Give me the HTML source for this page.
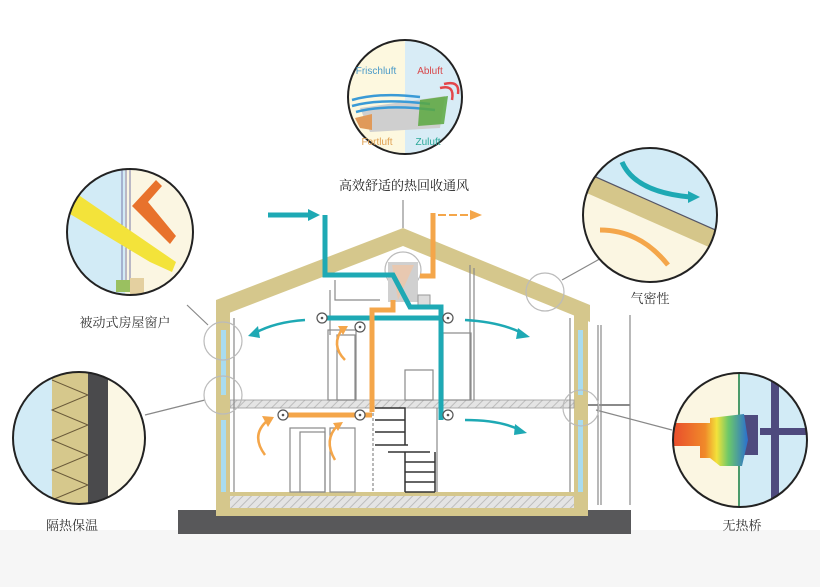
<!DOCTYPE html>
<html><head><meta charset="utf-8"><style>
html,body{margin:0;padding:0;background:#fff}
svg{display:block}
text{font-family:"Liberation Serif","Noto Serif CJK SC",serif}
.lat{font-family:"Liberation Sans",sans-serif}
</style></head><body>
<svg width="820" height="587" viewBox="0 0 820 587" xmlns="http://www.w3.org/2000/svg">
<defs>
<pattern id="h" width="6" height="6" patternUnits="userSpaceOnUse" patternTransform="rotate(45)">
<rect width="6" height="6" fill="#e4e4e4"/><line x1="0" y1="0" x2="0" y2="6" stroke="#bdbdbd" stroke-width="2"/></pattern>
<clipPath id="c1"><circle cx="405" cy="97" r="57"/></clipPath>
<clipPath id="c2"><circle cx="130" cy="232" r="63"/></clipPath>
<clipPath id="c3"><circle cx="79" cy="438" r="66"/></clipPath>
<clipPath id="c4"><circle cx="650" cy="215" r="67"/></clipPath>
<clipPath id="c5"><circle cx="740" cy="440" r="67"/></clipPath>
<linearGradient id="heat" x1="0" x2="1"><stop offset="0" stop-color="#e8472c"/><stop offset=".45" stop-color="#f08a2a"/><stop offset=".6" stop-color="#f3e23a"/><stop offset=".75" stop-color="#6cc86a"/><stop offset="1" stop-color="#2a6fd0"/></linearGradient>
</defs>
<rect x="0" y="530" width="820" height="57" fill="#f6f6f6"/>

<!-- connectors -->
<g stroke="#888" stroke-width="1.2" fill="none">
<line x1="187" y1="305" x2="208" y2="325"/>
<line x1="145" y1="415" x2="205" y2="400"/>
<line x1="605" y1="256" x2="562" y2="280"/>
<line x1="596" y1="410" x2="672" y2="430"/>
</g>

<!-- foundation -->
<rect x="178" y="510" width="453" height="24" fill="#58585a"/>
<!-- roof -->
<polygon points="216,300 403,228 590,305 590,322 403,246 216,318" fill="#d5c78c"/>
<line x1="403" y1="228" x2="403" y2="200" stroke="#777" stroke-width="1"/>
<!-- walls -->
<rect x="216" y="310" width="14" height="205" fill="#d5c78c"/>
<rect x="574" y="312" width="14" height="203" fill="#d5c78c"/>
<rect x="221" y="330" width="5" height="65" fill="#a9dcef"/>
<rect x="221" y="420" width="5" height="72" fill="#a9dcef"/>
<rect x="578" y="330" width="5" height="65" fill="#a9dcef"/>
<rect x="578" y="420" width="5" height="72" fill="#a9dcef"/>
<!-- ground slab -->
<rect x="216" y="492" width="372" height="24" fill="#d5c78c"/>
<rect x="230" y="496" width="344" height="12" fill="url(#h)"/>
<!-- middle floor -->
<rect x="230" y="400" width="344" height="8" fill="url(#h)" stroke="#999" stroke-width=".8"/>
<rect x="216" y="398" width="14" height="12" fill="#d5c78c"/>
<!-- thin lines -->
<g stroke="#8a8a8a" stroke-width="1.2" fill="none">
<line x1="234" y1="318" x2="234" y2="492"/>
<line x1="570" y1="318" x2="570" y2="492"/>
<path d="M330 290 V335 M335 280 V300 H380"/>
<path d="M470 265 V400 M474 268 V400"/>
<rect x="328" y="330" width="28" height="70"/>
<rect x="337" y="335" width="18" height="65"/>
<rect x="443" y="333" width="28" height="67"/>
<rect x="405" y="370" width="28" height="30"/>
<rect x="290" y="428" width="35" height="64"/>
<rect x="300" y="432" width="25" height="60"/>
<rect x="330" y="428" width="25" height="64"/>
<line x1="437" y1="408" x2="437" y2="492"/>
<line x1="373" y1="408" x2="373" y2="492" stroke-dasharray="3 2"/>
<line x1="598" y1="325" x2="598" y2="505"/>
<line x1="601" y1="325" x2="601" y2="505"/>
<line x1="630" y1="315" x2="630" y2="505"/>
<line x1="588" y1="405" x2="630" y2="405" stroke-width="2"/>
</g>
<!-- stairs -->
<g stroke="#333" stroke-width="1.5" fill="#fff">
<path d="M375 408 H405 V420 H375 M375 420 H405 V432 H375 M375 432 H405 V445 H375 M378 445 H408 M388 452 H430 M405 452 V492 M405 462 H435 M405 472 H435 M405 482 H435 M405 492 H435 M435 452 V492"/>
</g>
<!-- HRV unit -->
<circle cx="403" cy="270" r="18" fill="none" stroke="#bbb" stroke-width="1.2"/>
<rect x="388" y="262" width="30" height="40" fill="#d0d0d0"/>
<polygon points="392,265 414,265 398,300" fill="#e8c8b0"/>
<rect x="418" y="295" width="12" height="12" fill="#ddd" stroke="#999"/>
<!-- teal ducts -->
<g stroke="#1ea9b4" stroke-width="5" fill="none">
<path d="M325 215 V275 H393 L410 307 H441 V420"/>
<line x1="322" y1="318" x2="448" y2="318"/>
<path d="M268 215 H308"/>
</g>
<polygon points="308,209 320,215 308,221" fill="#1ea9b4"/>
<!-- orange ducts -->
<g stroke="#f4a64a" stroke-width="5" fill="none">
<path d="M433 213 V276 H420"/>
<path d="M372 412 V310 H393 V300"/>
<line x1="283" y1="415" x2="372" y2="415"/>
<path d="M438 215 H470" stroke-width="2" stroke-dasharray="8 3"/>
</g>
<polygon points="470,210 482,215 470,220" fill="#f4a64a"/>
<!-- diffusers -->
<g fill="#fff" stroke="#555" stroke-width="1.2">
<circle cx="322" cy="318" r="5"/><circle cx="360" cy="327" r="5"/><circle cx="448" cy="318" r="5"/>
<circle cx="283" cy="415" r="5"/><circle cx="360" cy="415" r="5"/><circle cx="448" cy="415" r="5"/>
</g>
<g fill="#555"><circle cx="322" cy="318" r="1.3"/><circle cx="360" cy="327" r="1.3"/><circle cx="448" cy="318" r="1.3"/><circle cx="283" cy="415" r="1.3"/><circle cx="360" cy="415" r="1.3"/><circle cx="448" cy="415" r="1.3"/></g>
<!-- air arrows -->
<g fill="none" stroke-width="2.5">
<path d="M305 320 Q275 322 255 333" stroke="#1ea9b4"/>
<path d="M465 320 Q500 322 522 333" stroke="#1ea9b4"/>
<path d="M465 420 Q500 420 520 430" stroke="#1ea9b4"/>
<path d="M265 455 Q250 435 268 420" stroke="#f4a64a"/>
<path d="M345 360 Q330 345 343 328" stroke="#f4a64a"/>
<path d="M335 460 Q323 440 338 425" stroke="#f4a64a"/>
</g>
<g fill="#1ea9b4"><polygon points="248,336 258,326 260,338"/><polygon points="530,337 518,328 516,339"/><polygon points="527,433 515,424 514,435"/></g>
<g fill="#f4a64a"><polygon points="274,417 262,416 268,427"/><polygon points="348,326 338,326 343,335"/><polygon points="343,422 333,423 338,431"/></g>
<!-- small magnifier circles -->
<g fill="none" stroke="#bbb" stroke-width="1.2">
<circle cx="223" cy="341" r="19"/><circle cx="223" cy="395" r="19"/><circle cx="545" cy="292" r="19"/><circle cx="581" cy="408" r="18"/>
</g>

<!-- detail 1 top -->
<g clip-path="url(#c1)">
<rect x="348" y="40" width="57" height="115" fill="#fdf8df"/><rect x="405" y="40" width="57" height="115" fill="#d8ecf6"/>
<polygon points="360,108 445,96 440,128 370,132" fill="#cfcfcf"/>
<path d="M352 100 Q380 92 420 97 M352 106 Q380 98 430 104 M356 112 Q385 104 435 110" stroke="#3a9ad6" stroke-width="2.5" fill="none"/>
<polygon points="420,100 448,96 444,124 418,126" fill="#5aa840" opacity=".85"/>
<path d="M440 88 Q455 84 452 100 M444 84 Q460 80 458 94" stroke="#e3464a" stroke-width="2.5" fill="none"/>
<polygon points="355,118 372,114 372,130 360,128" fill="#e09a5a"/>
</g>
<circle cx="405" cy="97" r="57" fill="none" stroke="#222" stroke-width="2"/>
<text class="lat" x="376" y="74" font-size="10" fill="#4a9ac8" text-anchor="middle">Frischluft</text>
<text class="lat" x="430" y="74" font-size="10" fill="#d8474a" text-anchor="middle">Abluft</text>
<text class="lat" x="377" y="145" font-size="10" fill="#e0a050" text-anchor="middle">Fortluft</text>
<text class="lat" x="428" y="145" font-size="10" fill="#2aa898" text-anchor="middle">Zuluft</text>
<text x="404" y="190" font-size="13" fill="#222" text-anchor="middle">高效舒适的热回收通风</text>

<!-- detail 2 window -->
<g clip-path="url(#c2)">
<rect x="67" y="169" width="126" height="126" fill="#fbf6e2"/>
<rect x="67" y="169" width="58" height="126" fill="#d2ebf6"/>
<g stroke="#7a7aa8" stroke-width="1"><line x1="122" y1="165" x2="122" y2="290"/><line x1="126" y1="165" x2="126" y2="290"/><line x1="130" y1="165" x2="130" y2="290"/></g>
<polygon points="72,200 80,196 176,262 172,272 150,262 70,214" fill="#f3e33a"/>
<polygon points="162,186 148,202 176,236 170,244 132,206 156,180" fill="#e8722c"/>
<rect x="116" y="280" width="14" height="12" fill="#9ac060"/>
<rect x="130" y="278" width="14" height="16" fill="#e4d0a0"/>
</g>
<circle cx="130" cy="232" r="63" fill="none" stroke="#222" stroke-width="2"/>
<text x="125" y="327" font-size="13" fill="#333" text-anchor="middle">被动式房屋窗户</text>

<!-- detail 3 insulation -->
<g clip-path="url(#c3)">
<rect x="10" y="370" width="140" height="140" fill="#d2ebf6"/>
<rect x="52" y="370" width="36" height="140" fill="#d6c88c"/>
<path d="M52 380 L88 395 L52 410 L88 425 L52 440 L88 455 L52 470 L88 485 L52 500" stroke="#6a5a3a" stroke-width="1" fill="none"/>
<rect x="88" y="370" width="20" height="140" fill="#4a4a4c"/>
<rect x="108" y="370" width="45" height="140" fill="#fbf7e4"/>
</g>
<circle cx="79" cy="438" r="66" fill="none" stroke="#222" stroke-width="2"/>
<text x="72" y="530" font-size="13" fill="#333" text-anchor="middle">隔热保温</text>

<!-- detail 4 airtight -->
<g clip-path="url(#c4)">
<rect x="580" y="145" width="140" height="140" fill="#fbf6e2"/>
<polygon points="580,145 720,145 720,232 580,170" fill="#d2ebf6"/>
<polygon points="580,170 720,232 720,252 580,190" fill="#d5c68a"/>
<line x1="580" y1="170" x2="720" y2="232" stroke="#556" stroke-width="1.2"/>
<path d="M622 162 Q635 192 690 197" stroke="#1ea9b4" stroke-width="5" fill="none"/>
<polygon points="688,191 700,197 688,203" fill="#1ea9b4"/>
<path d="M600 230 Q640 230 668 265" stroke="#f4a64a" stroke-width="5" fill="none"/>
</g>
<circle cx="650" cy="215" r="67" fill="none" stroke="#222" stroke-width="2"/>
<text x="650" y="303" font-size="13" fill="#333" text-anchor="middle">气密性</text>

<!-- detail 5 thermal bridge -->
<g clip-path="url(#c5)">
<rect x="670" y="370" width="140" height="140" fill="#fbf6e2"/>
<rect x="739" y="370" width="72" height="140" fill="#d2ebf6"/>
<line x1="739" y1="370" x2="739" y2="510" stroke="#4a9a6a" stroke-width="2"/>
<rect x="771" y="370" width="8" height="140" fill="#4e4a7e"/>
<rect x="760" y="428" width="50" height="7" fill="#4e4a7e"/>
<rect x="740" y="415" width="18" height="40" fill="#4e4a7e"/>
<polygon points="670,423 710,423 710,418 744,414 748,440 742,466 720,466 710,458 700,458 700,446 670,446" fill="url(#heat)"/>
</g>
<circle cx="740" cy="440" r="67" fill="none" stroke="#222" stroke-width="2"/>
<text x="742" y="530" font-size="13" fill="#333" text-anchor="middle">无热桥</text>
</svg>
</body></html>
